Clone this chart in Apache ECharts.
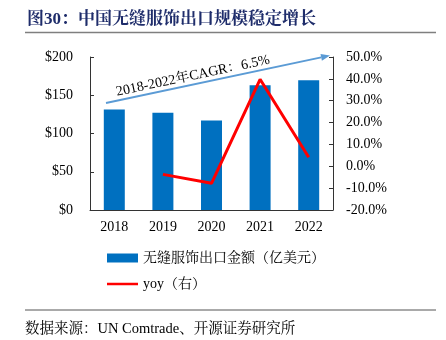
<!DOCTYPE html>
<html><head><meta charset="utf-8">
<script src="https://cdn.jsdelivr.net/npm/echarts@6/dist/echarts.min.js"></script>
<style>html,body{margin:0;padding:0;background:#fff}#c{width:446px;height:340px}</style>
</head><body><div id="c"></div>
<script>
const categories = ['2018', '2019', '2020', '2021', '2022'];
const exportValues = [131.5, 127, 117, 163, 169.5];
const yoyValues = [null, -3.7, -7.8, 39.8, 4.1];
const leftTicks = { min: 0, max: 200, interval: 50 };
const rightTicks = { min: -20, max: 50, interval: 10 };
const barName = '无缝服饰出口金额（亿美元）';
const lineName = 'yoy（右）';
const titleText = '图30：中国无缝服饰出口规模稳定增长';
const sourceText = '数据来源：UN Comtrade、开源证券研究所';
const cagrText = '2018-2022年CAGR：6.5%';

const FONT = "'Liberation Serif', 'Noto Serif CJK SC', 'Noto Sans CJK SC', serif";
const chart = echarts.init(document.getElementById('c'), null, { renderer: 'canvas' });

// arrow geometry (annotation)
const a0 = [106, 103], a1 = [330, 55.5];
const dx = a1[0] - a0[0], dy = a1[1] - a0[1], len = Math.hypot(dx, dy);
const ux = dx / len, uy = dy / len, px = -uy, py = ux;
const hl = 9, hw = 3.5;
const base = [a1[0] - hl * ux, a1[1] - hl * uy];

chart.setOption({
  animation: false,
  textStyle: { fontFamily: FONT },
  grid: { left: 90, right: 113, top: 57, bottom: 130, containLabel: false },
  xAxis: {
    type: 'category', data: categories,
    axisLine: { lineStyle: { color: '#333', width: 1 } },
    axisTick: { show: false },
    axisLabel: { color: '#000', fontSize: 14, fontFamily: FONT, margin: 10 }
  },
  yAxis: [{
    type: 'value', min: leftTicks.min, max: leftTicks.max, interval: leftTicks.interval,
    axisLine: { show: true, lineStyle: { color: '#333' } },
    axisTick: { show: true, inside: true, length: 4, lineStyle: { color: '#333' } },
    splitLine: { show: false },
    axisLabel: { color: '#000', fontSize: 14, fontFamily: FONT, margin: 17, formatter: v => '$' + v }
  }, {
    type: 'value', min: rightTicks.min, max: rightTicks.max, interval: rightTicks.interval,
    axisLine: { show: true, lineStyle: { color: '#333' } },
    axisTick: { show: true, inside: true, length: 4, lineStyle: { color: '#333' } },
    splitLine: { show: false },
    axisLabel: { color: '#000', fontSize: 14, fontFamily: FONT, margin: 13, formatter: v => v.toFixed(1) + '%' }
  }],
  legend: [{
    data: [{ name: barName, icon: 'rect' }],
    left: 102, top: 246, itemWidth: 31, itemHeight: 9, itemGap: 5,
    textStyle: { fontSize: 14, color: '#000', fontFamily: FONT }
  }, {
    data: [{ name: lineName, icon: 'rect' }],
    left: 102, top: 272, itemWidth: 31, itemHeight: 2.5, itemGap: 5,
    textStyle: { fontSize: 14, color: '#000', fontFamily: FONT }
  }],
  series: [{
    name: barName, type: 'bar', data: exportValues, barWidth: 21,
    itemStyle: { color: '#0070C0' }
  }, {
    name: lineName, type: 'line', yAxisIndex: 1, data: yoyValues,
    showSymbol: false, symbol: 'none', connectNulls: false,
    lineStyle: { color: '#FF0000', width: 3 }, itemStyle: { color: '#FF0000' }
  }],
  graphic: [
    { type: 'text', left: 27, top: 11, style: { text: titleText, font: "bold 17px " + FONT, fill: '#1F2D6B' } },
    { type: 'line', shape: { x1: 25, y1: 32.5, x2: 436, y2: 32.5 }, style: { stroke: '#7F7F7F', lineWidth: 1.5 } },
    { type: 'line', shape: { x1: 25, y1: 310, x2: 436, y2: 310 }, style: { stroke: '#555', lineWidth: 1 } },
    { type: 'text', left: 25, top: 322, style: { text: sourceText, font: "14.5px " + FONT, fill: '#000' } },
    { type: 'line', shape: { x1: a0[0], y1: a0[1], x2: base[0], y2: base[1] }, style: { stroke: '#5B9BD5', lineWidth: 2 } },
    { type: 'polygon', shape: { points: [a1, [base[0] + hw * px, base[1] + hw * py], [base[0] - hw * px, base[1] - hw * py]] }, style: { fill: '#5B9BD5' } },
    { type: 'text', x: 193, y: 76, rotation: Math.atan2(-dy, dx),
      style: { text: cagrText, font: "14px " + FONT, fill: '#000', align: 'center', verticalAlign: 'middle' } }
  ]
});
</script></body></html>
